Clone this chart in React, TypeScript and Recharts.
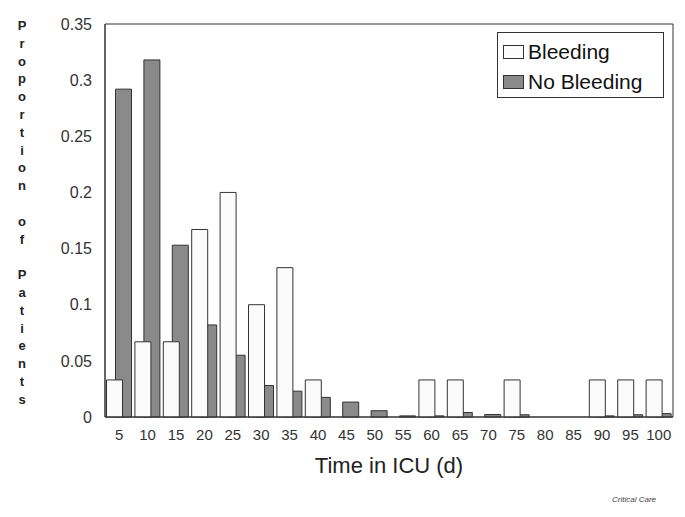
import React from "react";
import {
  BarChart,
  Bar,
  XAxis,
  YAxis,
  ReferenceArea,
  Rectangle,
} from "recharts";

// time in ICU, days (bin upper edges)
const days = ["5", "10", "15", "20", "25", "30", "35", "40", "45", "50", "55", "60", "65", "70", "75", "80", "85", "90", "95", "100"];

// proportion of patients per bin
const bleeding = [0.033, 0.067, 0.067, 0.167, 0.2, 0.1, 0.133, 0.033, 0, 0, 0, 0.033, 0.033, 0, 0.033, 0, 0, 0.033, 0.033, 0.033];
const noBleeding = [0.292, 0.318, 0.153, 0.082, 0.055, 0.028, 0.023, 0.0175, 0.0133, 0.0056, 0.001, 0.001, 0.004, 0.0022, 0.002, 0, 0, 0.001, 0.002, 0.003];

const yTicks = [0, 0.05, 0.1, 0.15, 0.2, 0.25, 0.3, 0.35];
const seriesNames = ["Bleeding", "No Bleeding"];
const yTitle = "Proportion of Patients";

const data = days.map((d, i) => ({ day: d, bleeding: bleeding[i], noBleeding: noBleeding[i] }));

const FONT = "Arial, 'Liberation Sans', sans-serif";
const INK = "#333";
const LIGHT = "#fbfbfb";
const GRAY = "#8a8a8a";

// both bars sit on the same slot; nudge them apart so white overlaps gray
const shifted = (dx: number) => (props: any) => <Rectangle {...props} x={props.x + dx} />;

const YTitle = () => (
  <text x={22} y={30} fontFamily={FONT} fontSize={13} fontWeight="bold" fill="#222" textAnchor="middle">
    {yTitle.split("").map((ch, i) => (
      <tspan key={i} x={22} y={30 + i * 17.8}>
        {ch === " " ? "\u00a0" : ch}
      </tspan>
    ))}
  </text>
);

const LegendBox = () => (
  <div
    style={{
      position: "absolute",
      left: 497,
      top: 32,
      border: `1px solid ${INK}`,
      background: "#fff",
      width: 167,
      height: 66,
      boxSizing: "border-box",
      padding: "4px 0 0 5px",
      fontFamily: FONT,
      fontSize: 21,
      color: "#111",
    }}
  >
    {seriesNames.map((name, i) => (
      <div key={name} style={{ display: "flex", alignItems: "center", height: 30 }}>
        <span
          style={{
            display: "inline-block",
            width: 19,
            height: 12,
            border: `1px solid ${INK}`,
            background: i === 0 ? LIGHT : GRAY,
            marginRight: 4,
          }}
        />
        {name}
      </div>
    ))}
  </div>
);

export default function App() {
  return (
    <div style={{ position: "absolute", left: 0, top: 0, width: 685, height: 517, background: "#fff" }}>
      <BarChart
        width={685}
        height={517}
        data={data}
        margin={{ top: 24, right: 12, bottom: 0, left: 0 }}
        barSize={16}
        barGap={-16}
      >
        <XAxis
          dataKey="day"
          height={100}
          tickLine={false}
          tickSize={0}
          tickMargin={12}
          axisLine={{ stroke: INK }}
          interval={0}
          tick={{ fill: INK, fontSize: 15, fontFamily: FONT }}
          label={{ value: "Time in ICU (d)", position: "insideTop", offset: 40, fill: "#222", fontSize: 22, fontFamily: FONT }}
        />
        <YAxis
          domain={[0, 0.35]}
          ticks={yTicks}
          width={105}
          tickLine={false}
          tickSize={0}
          tickMargin={13}
          axisLine={{ stroke: INK }}
          tick={{ fill: INK, fontSize: 16, fontFamily: FONT }}
          label={{ content: () => <YTitle /> }}
        />
        {/* plot frame */}
        <ReferenceArea y1={0} y2={0.35} fill="none" stroke={INK} strokeWidth={1} ifOverflow="visible" />
        <Bar dataKey="noBleeding" name="No Bleeding" fill={GRAY} stroke={INK} strokeWidth={1} shape={shifted(4.5)} isAnimationActive={false} />
        <Bar dataKey="bleeding" name="Bleeding" fill={LIGHT} stroke={INK} strokeWidth={1} shape={shifted(-4.5)} isAnimationActive={false} />
      </BarChart>
      <LegendBox />
      <div
        style={{
          position: "absolute",
          left: 612,
          top: 495,
          fontFamily: FONT,
          fontSize: 8,
          fontStyle: "italic",
          color: "#444",
        }}
      >
        Critical Care
      </div>
    </div>
  );
}
